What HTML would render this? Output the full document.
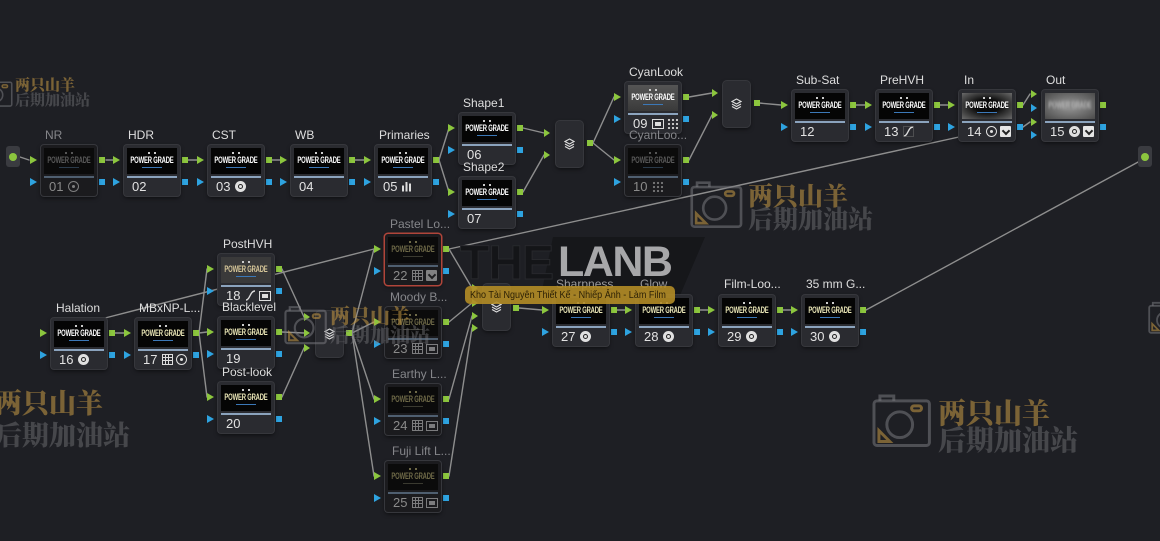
<!DOCTYPE html>
<html><head><meta charset="utf-8"><style>
*{box-sizing:border-box}
html,body{margin:0;padding:0}
body{width:1160px;height:541px;background:#1e1f24;overflow:hidden;position:relative;font-family:"Liberation Sans","DejaVu Sans",sans-serif}
svg.layer{position:absolute;left:0;top:0}
.n{position:absolute;width:56px;height:51px;background:#2a2b30;border-radius:3px;box-shadow:0 0 0 1px #36373c,0 2px 4px rgba(0,0,0,.6)}
.t{position:absolute;left:3px;top:3px;width:50px;height:26px;background:#050505;overflow:hidden}
.t b{position:absolute;left:-20px;right:-20px;top:8px;text-align:center;font-size:9.5px;line-height:10px;color:#fff;transform:scaleX(.62);white-space:nowrap;letter-spacing:-.3px;font-weight:900}
.t i{position:absolute;top:4px;left:21px;width:2px;height:2px;background:#ccc;box-shadow:6px 0 0 #ccc}
.t s{position:absolute;top:19px;left:15px;width:20px;height:1px;background:#3b78b8}
.bar{position:absolute;left:3px;width:50px;top:31px;height:2px;background:#8ba3bd}
.num{position:absolute;left:8px;top:34px;font-size:13px;line-height:15px;color:#e2e2e2}
.ic{position:absolute;left:27px;top:36px;height:11px;display:flex;gap:3px;align-items:center}
.lb{position:absolute;font-size:12px;line-height:14px;color:#dedede;white-space:nowrap}
.lb.dim{color:#85868a}
.lb.mid{color:#9a9a9c}
.dis{background:#1b1b1e}
.dis .t{background:#0b0b0b}
.dis .t b{color:#5a5a5a}
.dis .t i{background:#555;box-shadow:6px 0 0 #555}
.dis .t s{background:#2a3a4a}
.dis .bar{background:#4f5f70}
.dis .num{color:#8a8a8a}
.dis .ic{opacity:.5}
.ol .t b{color:#6f6a48}
.ol .t i{background:#6f6a48;box-shadow:6px 0 0 #6f6a48}
.ol .t s{background:#3a3a30}
.red{box-shadow:0 0 0 1.5px #b0453a,0 2px 4px rgba(0,0,0,.6)}
.yl .t b{color:#ece8b8}
.m{position:absolute;width:27px;height:46px;background:#2a2b30;border-radius:4px;box-shadow:0 0 0 1px #36373c,0 2px 4px rgba(0,0,0,.6)}
.m svg{position:absolute;left:8px;top:17px}
.fx{width:11px;height:11px;border-radius:50%;background:#e0e0e0;position:relative}
.fx::after{content:"";position:absolute;left:3px;top:3px;width:5px;height:5px;border-radius:50%;border:1.5px solid #222;box-sizing:border-box}
.grid{width:11px;height:11px;border:1px solid #ddd;background:linear-gradient(90deg,transparent 2px,#ddd 2px,#ddd 3px,transparent 3px,transparent 5px,#ddd 5px,#ddd 6px,transparent 6px),linear-gradient(transparent 2px,#ddd 2px,#ddd 3px,transparent 3px,transparent 5px,#ddd 5px,#ddd 6px,transparent 6px)}
.ring{width:11px;height:11px;border-radius:50%;border:1.5px solid #e0e0e0;position:relative}
.ring::after{content:"";position:absolute;left:2.5px;top:2.5px;width:3px;height:3px;border-radius:50%;background:#e0e0e0}
.chk{width:11px;height:11px;background:#e6e6e6;border-radius:1px;position:relative}
.chk::after{content:"";position:absolute;left:3px;top:1.5px;width:4px;height:4px;border-right:2px solid #222;border-bottom:2px solid #222;transform:rotate(45deg)}
.box{width:12px;height:10px;border:1px solid #ddd;position:relative}
.box::after{content:"";position:absolute;left:2px;top:2px;width:6px;height:4px;background:#ddd}
.bars{width:9px;height:10px;background:linear-gradient(90deg,#ddd 2px,transparent 2px,transparent 3.5px,#ddd 3.5px,#ddd 5.5px,transparent 5.5px,transparent 7px,#ddd 7px);clip-path:polygon(0 40%,30% 40%,30% 0,60% 0,60% 20%,100% 20%,100% 100%,0 100%)}
.dots{width:11px;height:11px;background:radial-gradient(circle,#ccc 1px,transparent 1.3px) 0 0/4px 4px}
.wm{position:absolute;font-family:"Noto Serif CJK SC","Noto Sans CJK SC",serif;font-weight:900;line-height:1;white-space:nowrap}
.g{color:rgba(200,155,70,.55)}
.k{color:rgba(120,120,125,.45)}
</style></head><body>

<svg class="layer" width="1160" height="541" viewBox="0 0 1160 541">
<polygon points="553,237 705,237 678,300 540,300" fill="#16171a"/>
<g fill="none" stroke="#8e8e8e" stroke-width="1.4" stroke-linecap="round">
<line x1="20" y1="157" x2="29" y2="160"/>
<line x1="106" y1="160" x2="113" y2="160"/>
<line x1="188" y1="160" x2="197" y2="160"/>
<line x1="272" y1="160" x2="280" y2="160"/>
<line x1="355" y1="160" x2="364" y2="160"/>
<line x1="439" y1="160" x2="449" y2="128"/>
<line x1="439" y1="160" x2="449" y2="192"/>
<line x1="523" y1="128" x2="544" y2="133"/>
<line x1="523" y1="192" x2="544" y2="155"/>
<line x1="593" y1="143" x2="614" y2="97"/>
<line x1="593" y1="143" x2="614" y2="160"/>
<line x1="689" y1="97" x2="712" y2="93"/>
<line x1="689" y1="160" x2="712" y2="115"/>
<line x1="759" y1="103" x2="781" y2="105"/>
<line x1="856" y1="105" x2="865" y2="105"/>
<line x1="940" y1="105" x2="948" y2="105"/>
<line x1="1023" y1="105" x2="1030" y2="94"/>
<line x1="1023" y1="127" x2="1030" y2="122"/>
<line x1="449" y1="249" x2="968" y2="135"/>
<line x1="449" y1="249" x2="472" y2="288"/>
<line x1="449" y1="322" x2="472" y2="303"/>
<line x1="449" y1="399" x2="472" y2="316"/>
<line x1="449" y1="476" x2="472" y2="328"/>
<line x1="105" y1="318" x2="374" y2="249"/>
<line x1="115" y1="333" x2="124" y2="333"/>
<line x1="199" y1="333" x2="207" y2="269"/>
<line x1="199" y1="333" x2="207" y2="332"/>
<line x1="199" y1="333" x2="207" y2="397"/>
<line x1="282" y1="269" x2="304" y2="317"/>
<line x1="282" y1="332" x2="304" y2="333"/>
<line x1="282" y1="397" x2="304" y2="348"/>
<line x1="352" y1="333" x2="374" y2="249"/>
<line x1="352" y1="333" x2="374" y2="322"/>
<line x1="352" y1="333" x2="374" y2="399"/>
<line x1="352" y1="333" x2="374" y2="476"/>
<line x1="519" y1="308" x2="542" y2="310"/>
<line x1="617" y1="310" x2="625" y2="310"/>
<line x1="700" y1="310" x2="708" y2="310"/>
<line x1="783" y1="310" x2="791" y2="310"/>
<line x1="866" y1="310" x2="1140" y2="161"/>
</g>
<defs>
<g id="pi"><polygon points="-11,11 -11,19 -4,15" fill="#8cc63e"/><polygon points="-11,33 -11,41 -4,37" fill="#2ea3e0"/></g>
<g id="po"><rect x="58" y="12" width="6" height="6" fill="#8cc63e"/><rect x="58" y="34" width="6" height="6" fill="#2ea3e0"/></g>
<polygon id="gt" points="-3,-4 -3,4 3,0" fill="#8cc63e"/>
</defs>
<use href="#pi" x="41" y="145"/><use href="#po" x="41" y="145"/>
<use href="#pi" x="124" y="145"/><use href="#po" x="124" y="145"/>
<use href="#pi" x="208" y="145"/><use href="#po" x="208" y="145"/>
<use href="#pi" x="291" y="145"/><use href="#po" x="291" y="145"/>
<use href="#pi" x="375" y="145"/><use href="#po" x="375" y="145"/>
<use href="#pi" x="459" y="113"/><use href="#po" x="459" y="113"/>
<use href="#pi" x="459" y="177"/><use href="#po" x="459" y="177"/>
<use href="#pi" x="625" y="82"/><use href="#po" x="625" y="82"/>
<use href="#pi" x="625" y="145"/><use href="#po" x="625" y="145"/>
<use href="#pi" x="792" y="90"/><use href="#po" x="792" y="90"/>
<use href="#pi" x="876" y="90"/><use href="#po" x="876" y="90"/>
<use href="#pi" x="959" y="90"/><use href="#po" x="959" y="90"/>
<use href="#po" x="1042" y="90"/>
<use href="#gt" x="1034" y="94"/>
<polygon points="1031,104 1031,112 1037,108" fill="#2ea3e0"/>
<use href="#gt" x="1034" y="122"/>
<polygon points="1031,131 1031,139 1037,135" fill="#2ea3e0"/>
<use href="#pi" x="51" y="318"/><use href="#po" x="51" y="318"/>
<use href="#pi" x="135" y="318"/><use href="#po" x="135" y="318"/>
<use href="#pi" x="218" y="254"/><use href="#po" x="218" y="254"/>
<use href="#pi" x="218" y="317"/><use href="#po" x="218" y="317"/>
<use href="#pi" x="218" y="382"/><use href="#po" x="218" y="382"/>
<use href="#pi" x="385" y="234"/><use href="#po" x="385" y="234"/>
<use href="#pi" x="385" y="307"/><use href="#po" x="385" y="307"/>
<use href="#pi" x="385" y="384"/><use href="#po" x="385" y="384"/>
<use href="#pi" x="385" y="461"/><use href="#po" x="385" y="461"/>
<use href="#pi" x="553" y="295"/><use href="#po" x="553" y="295"/>
<use href="#pi" x="636" y="295"/><use href="#po" x="636" y="295"/>
<use href="#pi" x="719" y="295"/><use href="#po" x="719" y="295"/>
<use href="#pi" x="802" y="295"/><use href="#po" x="802" y="295"/>
<use href="#gt" x="547" y="133"/><use href="#gt" x="547" y="155"/><rect x="587" y="140" width="6" height="6" fill="#8cc63e"/>
<use href="#gt" x="715" y="93"/><use href="#gt" x="715" y="115"/><rect x="754" y="100" width="6" height="6" fill="#8cc63e"/>
<use href="#gt" x="307" y="317"/><use href="#gt" x="307" y="333"/><use href="#gt" x="307" y="348"/><rect x="346" y="330" width="6" height="6" fill="#8cc63e"/>
<use href="#gt" x="475" y="288"/><use href="#gt" x="475" y="303"/><use href="#gt" x="475" y="316"/><use href="#gt" x="475" y="328"/><rect x="513" y="305" width="6" height="6" fill="#8cc63e"/>
<rect x="6" y="146" width="14" height="21" rx="3" fill="#3a3b40"/><circle cx="13" cy="157" r="4" fill="#8cc63e"/>
<rect x="1138" y="146" width="14" height="21" rx="3" fill="#3a3b40"/><circle cx="1145" cy="157" r="4" fill="#8cc63e"/>
</svg>

<div style="position:absolute;left:460px;top:240px;font-size:48px;line-height:48px;font-weight:bold;color:#141518;-webkit-text-stroke:1px #27282c;letter-spacing:-1px">THE</div>
<div style="position:absolute;left:558px;top:241px;font-size:43px;line-height:43px;font-weight:bold;color:#a7a7a9;letter-spacing:-1.5px">LANB</div>

<div class="m" style="left:556px;top:121px"><svg width="11" height="12" viewBox="0 0 11 12"><path d="M5.5 1 L10 3.5 L5.5 6 L1 3.5Z M1 6 L5.5 8.5 L10 6 M1 8.5 L5.5 11 L10 8.5" fill="none" stroke="#ddd" stroke-width="1.1"/></svg></div>
<div class="m" style="left:723px;top:81px"><svg width="11" height="12" viewBox="0 0 11 12"><path d="M5.5 1 L10 3.5 L5.5 6 L1 3.5Z M1 6 L5.5 8.5 L10 6 M1 8.5 L5.5 11 L10 8.5" fill="none" stroke="#ddd" stroke-width="1.1"/></svg></div>
<div class="m" style="left:316px;top:311px"><svg width="11" height="12" viewBox="0 0 11 12"><path d="M5.5 1 L10 3.5 L5.5 6 L1 3.5Z M1 6 L5.5 8.5 L10 6 M1 8.5 L5.5 11 L10 8.5" fill="none" stroke="#ddd" stroke-width="1.1"/></svg></div>
<div class="m" style="left:483px;top:284px"><svg width="11" height="12" viewBox="0 0 11 12"><path d="M5.5 1 L10 3.5 L5.5 6 L1 3.5Z M1 6 L5.5 8.5 L10 6 M1 8.5 L5.5 11 L10 8.5" fill="none" stroke="#ddd" stroke-width="1.1"/></svg></div>

<div class="n dis" style="left:41px;top:145px"><div class="t"><i></i><b>POWER GRADE</b><s></s></div><div class="bar"></div><span class="num">01</span><div class="ic"><span class="ring"></span></div></div>
<div class="lb dim" style="left:45px;top:128px">NR</div>
<div class="n" style="left:124px;top:145px"><div class="t"><i></i><b>POWER GRADE</b><s></s></div><div class="bar"></div><span class="num">02</span></div>
<div class="lb" style="left:128px;top:128px">HDR</div>
<div class="n" style="left:208px;top:145px"><div class="t"><i></i><b>POWER GRADE</b><s></s></div><div class="bar"></div><span class="num">03</span><div class="ic"><span class="fx"></span></div></div>
<div class="lb" style="left:212px;top:128px">CST</div>
<div class="n" style="left:291px;top:145px"><div class="t"><i></i><b>POWER GRADE</b><s></s></div><div class="bar"></div><span class="num">04</span></div>
<div class="lb" style="left:295px;top:128px">WB</div>
<div class="n" style="left:375px;top:145px"><div class="t"><i></i><b>POWER GRADE</b><s></s></div><div class="bar"></div><span class="num">05</span><div class="ic"><span class="bars"></span></div></div>
<div class="lb" style="left:379px;top:128px">Primaries</div>
<div class="n" style="left:459px;top:113px"><div class="t"><i></i><b>POWER GRADE</b><s></s></div><div class="bar"></div><span class="num">06</span></div>
<div class="lb" style="left:463px;top:96px">Shape1</div>
<div class="n" style="left:459px;top:177px"><div class="t"><i></i><b>POWER GRADE</b><s></s></div><div class="bar"></div><span class="num">07</span></div>
<div class="lb" style="left:463px;top:160px">Shape2</div>
<div class="n" style="left:625px;top:82px"><div class="t" style="background:linear-gradient(#555,#3a3a3a)"><i></i><b>POWER GRADE</b><s></s></div><div class="bar"></div><span class="num">09</span><div class="ic"><span class="box"></span><span class="dots"></span></div></div>
<div class="lb" style="left:629px;top:65px">CyanLook</div>
<div class="n dis" style="left:625px;top:145px"><div class="t"><i></i><b>POWER GRADE</b><s></s></div><div class="bar"></div><span class="num">10</span><div class="ic"><span class="dots"></span></div></div>
<div class="lb dim" style="left:629px;top:128px">CyanLoo...</div>
<div class="n" style="left:792px;top:90px"><div class="t"><i></i><b>POWER GRADE</b><s></s></div><div class="bar"></div><span class="num">12</span></div>
<div class="lb" style="left:796px;top:73px">Sub-Sat</div>
<div class="n" style="left:876px;top:90px"><div class="t"><i></i><b>POWER GRADE</b><s></s></div><div class="bar"></div><span class="num">13</span><div class="ic"><svg width="11" height="11" viewBox="0 0 11 11"><path d="M1 10 C5 10 5 1 10 1" fill="none" stroke="#ddd" stroke-width="1.4"/><rect x="0.5" y="0.5" width="10" height="10" fill="none" stroke="#666" stroke-width=".6"/></svg></div></div>
<div class="lb" style="left:880px;top:73px">PreHVH</div>
<div class="n" style="left:959px;top:90px"><div class="t" style="background:radial-gradient(ellipse at center,#0a0a0a 35%,#6a6a6a 100%)"><i></i><b>POWER GRADE</b><s></s></div><div class="bar"></div><span class="num">14</span><div class="ic"><span class="ring"></span><span class="chk"></span></div></div>
<div class="lb" style="left:964px;top:73px">In</div>
<div class="n" style="left:1042px;top:90px"><div class="t" style="background:radial-gradient(ellipse at center,#8a8a8a 20%,#4a4a4a 100%)"><b style="color:#b5b5b5;filter:blur(1.5px)">POWER GRADE</b></div><div class="bar"></div><span class="num">15</span><div class="ic"><span class="fx"></span><span class="chk"></span></div></div>
<div class="lb" style="left:1046px;top:73px">Out</div>

<div class="n" style="left:51px;top:318px"><div class="t"><i></i><b>POWER GRADE</b><s></s></div><div class="bar"></div><span class="num">16</span><div class="ic"><span class="fx"></span></div></div>
<div class="lb" style="left:56px;top:301px">Halation</div>
<div class="n yl" style="left:135px;top:318px"><div class="t"><i></i><b>POWER GRADE</b><s></s></div><div class="bar"></div><span class="num">17</span><div class="ic"><span class="grid"></span><span class="ring"></span></div></div>
<div class="lb" style="left:139px;top:301px">MBxNP-L...</div>
<div class="n" style="left:218px;top:254px"><div class="t" style="background:#3a3a3a"><i></i><b style="color:#d8c89a">POWER GRADE</b><s></s></div><div class="bar"></div><span class="num">18</span><div class="ic"><svg width="11" height="11" viewBox="0 0 11 11"><path d="M1 10 C5 10 5 1 10 1" fill="none" stroke="#ddd" stroke-width="1.4"/></svg><span class="box"></span></div></div>
<div class="lb" style="left:223px;top:237px">PostHVH</div>
<div class="n yl" style="left:218px;top:317px"><div class="t"><i></i><b>POWER GRADE</b><s></s></div><div class="bar"></div><span class="num">19</span></div>
<div class="lb" style="left:222px;top:300px">Blacklevel</div>
<div class="n yl" style="left:218px;top:382px"><div class="t"><i></i><b>POWER GRADE</b><s></s></div><div class="bar"></div><span class="num">20</span></div>
<div class="lb" style="left:222px;top:365px">Post-look</div>

<div class="n dis ol red" style="left:385px;top:234px"><div class="t"><i></i><b>POWER GRADE</b><s></s></div><div class="bar"></div><span class="num">22</span><div class="ic"><span class="grid"></span><span class="chk"></span></div></div>
<div class="lb dim" style="left:390px;top:217px">Pastel Lo...</div>
<div class="n dis ol" style="left:385px;top:307px"><div class="t"><i></i><b>POWER GRADE</b><s></s></div><div class="bar"></div><span class="num">23</span><div class="ic"><span class="grid"></span><span class="box"></span></div></div>
<div class="lb dim" style="left:390px;top:290px">Moody B...</div>
<div class="n dis ol" style="left:385px;top:384px"><div class="t"><i></i><b>POWER GRADE</b><s></s></div><div class="bar"></div><span class="num">24</span><div class="ic"><span class="grid"></span><span class="box"></span></div></div>
<div class="lb dim" style="left:392px;top:367px">Earthy L...</div>
<div class="n dis ol" style="left:385px;top:461px"><div class="t"><i></i><b>POWER GRADE</b><s></s></div><div class="bar"></div><span class="num">25</span><div class="ic"><span class="grid"></span><span class="box"></span></div></div>
<div class="lb dim" style="left:392px;top:444px">Fuji Lift L...</div>

<div class="n yl" style="left:553px;top:295px"><div class="t"><i></i><b>POWER GRADE</b><s></s></div><div class="bar"></div><span class="num">27</span><div class="ic"><span class="fx"></span></div></div>
<div class="lb mid" style="left:556px;top:277px">Sharpness</div>
<div class="n yl" style="left:636px;top:295px"><div class="t"><i></i><b>POWER GRADE</b><s></s></div><div class="bar"></div><span class="num">28</span><div class="ic"><span class="fx"></span></div></div>
<div class="lb mid" style="left:640px;top:277px">Glow</div>
<div class="n yl" style="left:719px;top:295px"><div class="t"><i></i><b>POWER GRADE</b><s></s></div><div class="bar"></div><span class="num">29</span><div class="ic"><span class="fx"></span></div></div>
<div class="lb" style="left:724px;top:277px">Film-Loo...</div>
<div class="n yl" style="left:802px;top:295px"><div class="t"><i></i><b>POWER GRADE</b><s></s></div><div class="bar"></div><span class="num">30</span><div class="ic"><span class="fx"></span></div></div>
<div class="lb" style="left:806px;top:277px">35 mm G...</div>

<svg class="layer" width="1160" height="541" viewBox="0 0 1160 541" style="pointer-events:none">
<defs>
<g id="cam" fill="none" stroke-width="3">
<path d="M8 8 V3 H22 V8" stroke="rgba(120,120,125,.55)"/>
<rect x="2" y="8" width="56" height="45" rx="3" stroke="rgba(120,120,125,.55)"/>
<circle cx="28" cy="32" r="13" stroke="rgba(120,120,125,.55)"/>
<rect x="40" y="13" width="10" height="5" rx="2.5" stroke="rgba(200,155,70,.55)"/>
<path d="M7 49 L7 38 L18 49 Z" stroke="rgba(200,155,70,.55)"/>
</g>
</defs>
<use href="#cam" transform="translate(-19,78) scale(0.53)"/>
<use href="#cam" transform="translate(690,180) scale(0.88)"/>
<use href="#cam" transform="translate(284,305) scale(0.72)"/>
<use href="#cam" transform="translate(872,393) scale(0.99)"/>
<use href="#cam" transform="translate(1148,301) scale(0.6)"/>
</svg>

<div class="wm g" style="left:15px;top:77px;font-size:15px">两只山羊</div>
<div class="wm k" style="left:15px;top:92px;font-size:15px">后期加油站</div>
<div class="wm g" style="left:748px;top:183px;font-size:25px">两只山羊</div>
<div class="wm k" style="left:748px;top:206px;font-size:25px">后期加油站</div>
<div class="wm g" style="left:330px;top:305px;font-size:20px">两只山羊</div>
<div class="wm k" style="left:330px;top:324px;font-size:20px">后期加油站</div>
<div class="wm g" style="left:-5px;top:388px;font-size:27px">两只山羊</div>
<div class="wm k" style="left:-5px;top:420px;font-size:27px">后期加油站</div>
<div class="wm g" style="left:938px;top:398px;font-size:28px">两只山羊</div>
<div class="wm k" style="left:938px;top:425px;font-size:28px">后期加油站</div>

<div style="position:absolute;left:465px;top:286px;width:210px;height:18px;border-radius:5px;background:rgba(178,140,38,.9)"></div>
<div style="position:absolute;left:470px;top:288px;width:230px;font-size:10.5px;line-height:14px;color:#2a1f05;white-space:nowrap;transform:scaleX(.86);transform-origin:0 0">Kho Tài Nguyên Thiết Kế - Nhiếp Ảnh - Làm Film</div>

</body></html>
